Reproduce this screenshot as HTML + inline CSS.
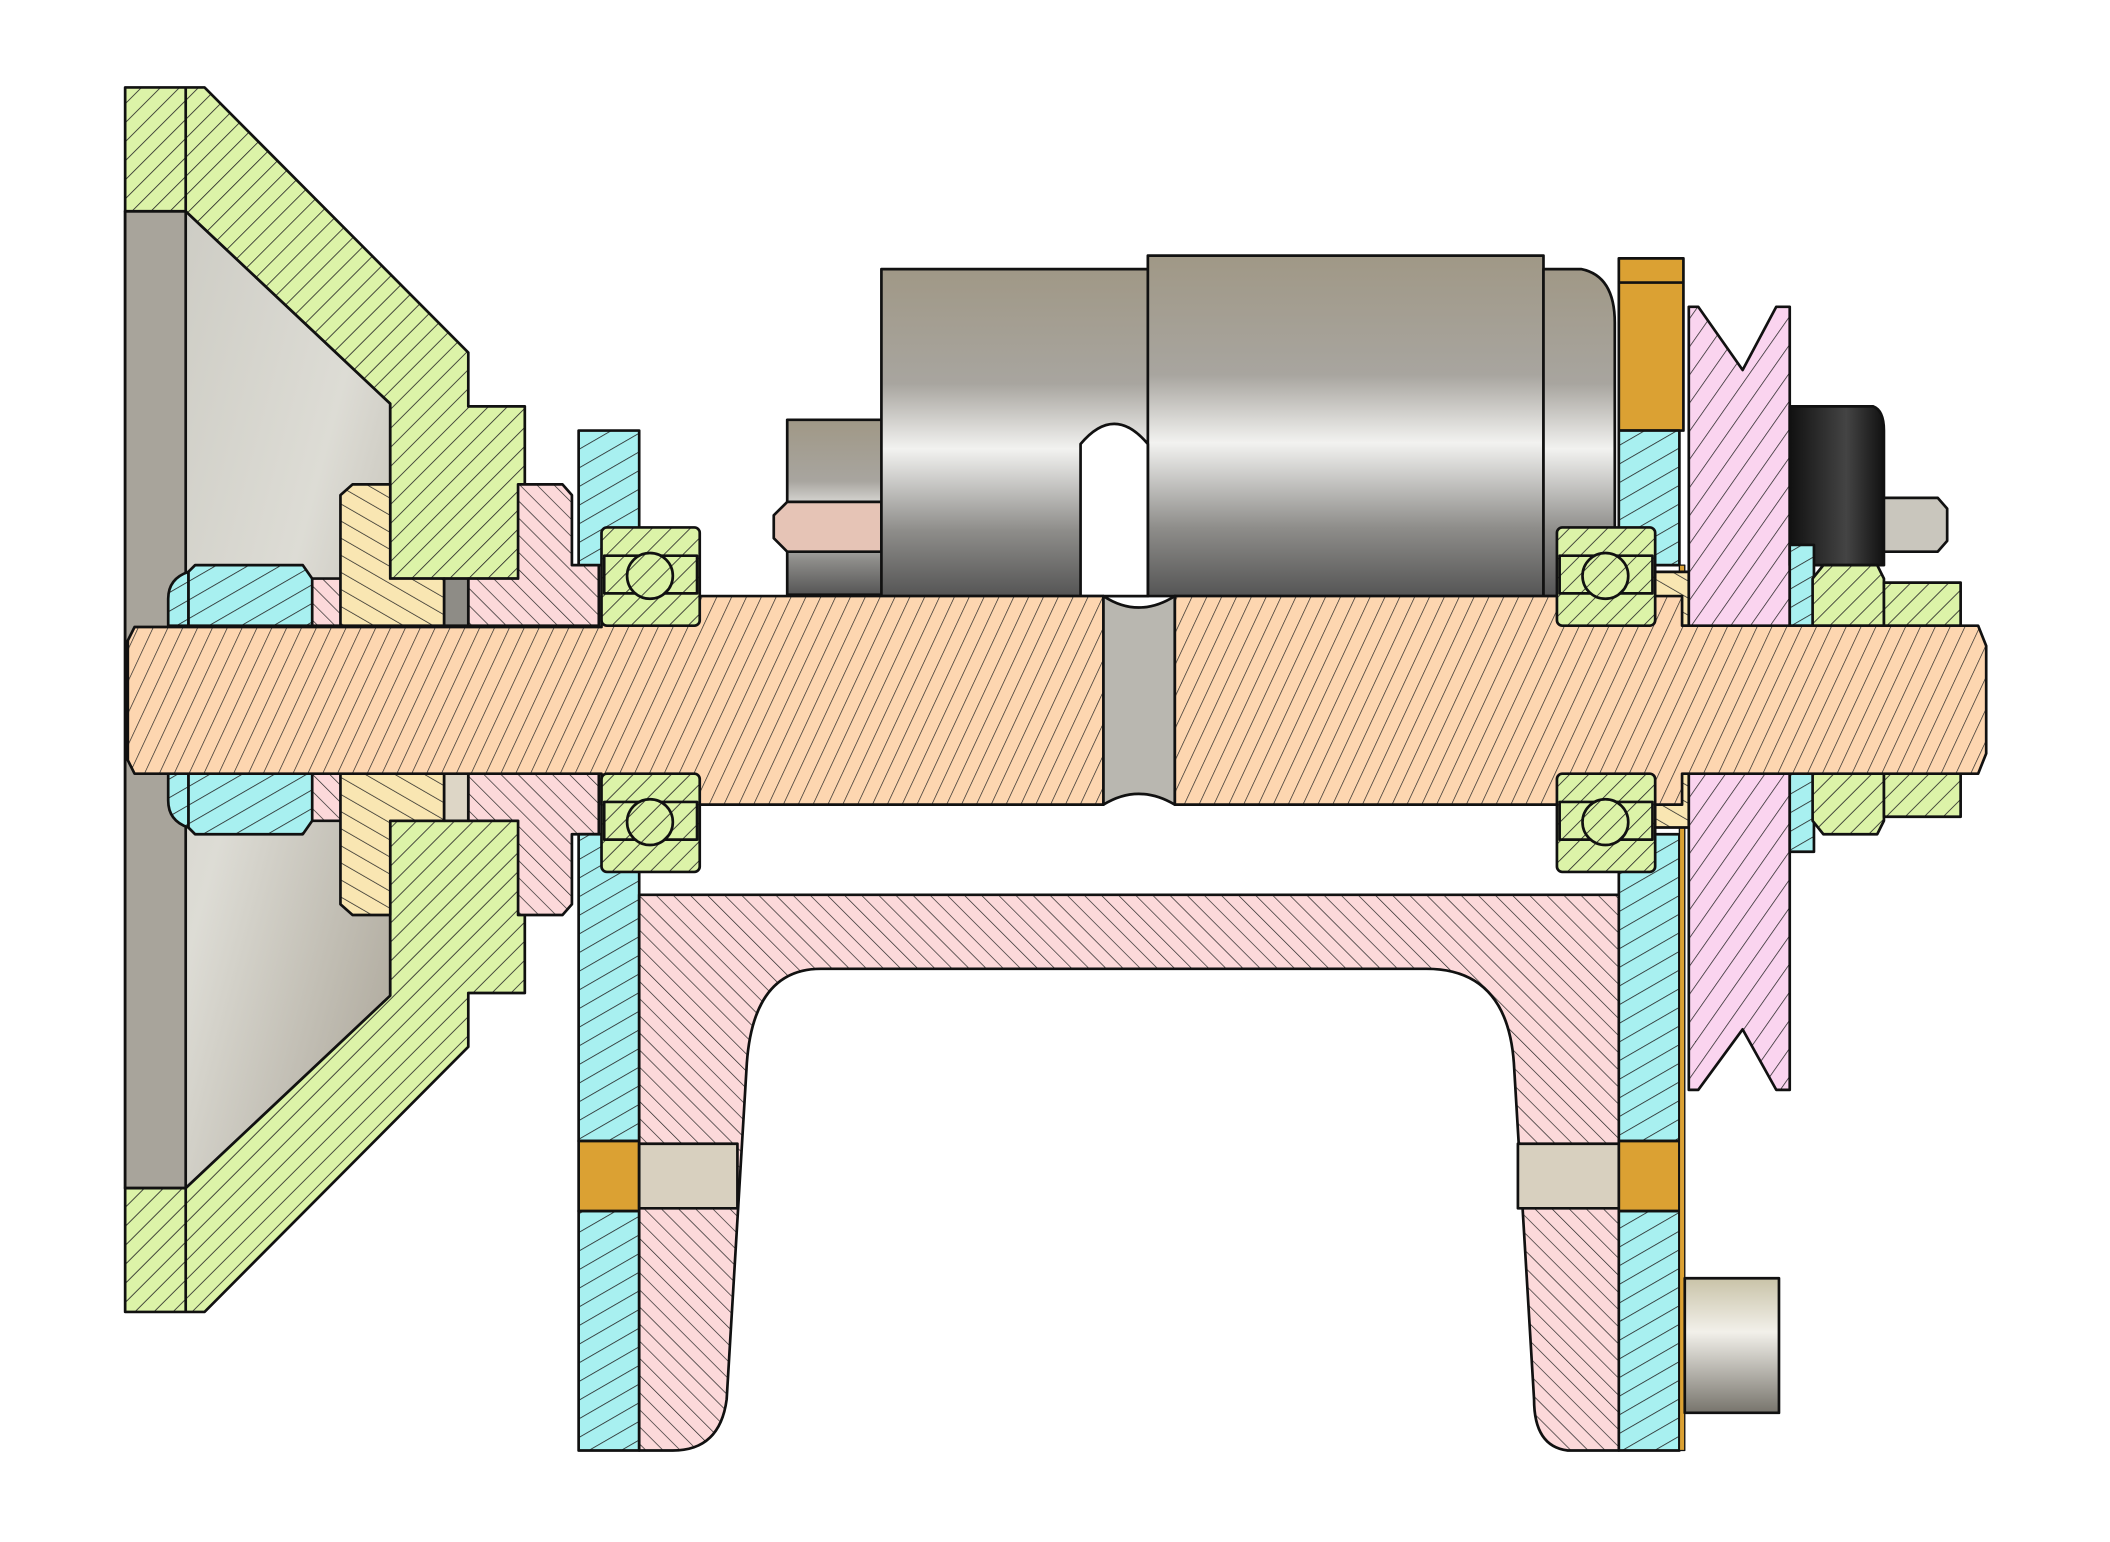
<!DOCTYPE html>
<html><head><meta charset="utf-8"><style>html,body{margin:0;padding:0;background:#fff}svg{display:block}</style></head>
<body>
<svg width="2110" height="1542" viewBox="0 0 1568 1146" preserveAspectRatio="none" xmlns="http://www.w3.org/2000/svg">
<defs>
<pattern id="hg" width="10" height="10" patternUnits="userSpaceOnUse" patternTransform="rotate(45)"><rect width="10" height="10" fill="#dcf3a8"/><line x1="0" y1="0" x2="0" y2="10" stroke="#222" stroke-width="1.2"/></pattern>
<pattern id="hc" width="12" height="12" patternUnits="userSpaceOnUse" patternTransform="rotate(60)"><rect width="12" height="12" fill="#a8f0f0"/><line x1="0" y1="0" x2="0" y2="12" stroke="#222" stroke-width="1.2"/></pattern>
<pattern id="hp" width="9" height="9" patternUnits="userSpaceOnUse" patternTransform="rotate(-45)"><rect width="9" height="9" fill="#fcd9da"/><line x1="0" y1="0" x2="0" y2="9" stroke="#222" stroke-width="1"/></pattern>
<pattern id="hm" width="12" height="12" patternUnits="userSpaceOnUse" patternTransform="rotate(35)"><rect width="12" height="12" fill="#fad4ef"/><line x1="0" y1="0" x2="0" y2="12" stroke="#222" stroke-width="1.1"/></pattern>
<pattern id="hy" width="11" height="11" patternUnits="userSpaceOnUse" patternTransform="rotate(-60)"><rect width="11" height="11" fill="#f9e6b2"/><line x1="0" y1="0" x2="0" y2="11" stroke="#222" stroke-width="1.1"/></pattern>
<pattern id="ho" width="10" height="10" patternUnits="userSpaceOnUse" patternTransform="rotate(25)"><rect width="10" height="10" fill="#fdd6b0"/><line x1="0" y1="0" x2="0" y2="10" stroke="#222" stroke-width="1"/></pattern>
<linearGradient id="cone" x1="0" y1="0" x2="1" y2="1"><stop offset="0" stop-color="#c9c8c0"/><stop offset=".5" stop-color="#dddcd5"/><stop offset="1" stop-color="#a9a396"/></linearGradient>
<linearGradient id="mot" x1="0" y1="0" x2="0" y2="1"><stop offset="0" stop-color="#a09886"/><stop offset=".35" stop-color="#a8a59f"/><stop offset=".55" stop-color="#f2f2f0"/><stop offset=".8" stop-color="#8e8d8a"/><stop offset="1" stop-color="#555"/></linearGradient>
<linearGradient id="blk" x1="0" y1="0" x2="1" y2="0"><stop offset="0" stop-color="#111"/><stop offset=".6" stop-color="#444"/><stop offset="1" stop-color="#111"/></linearGradient>
<linearGradient id="stud" x1="0" y1="0" x2="0" y2="1"><stop offset="0" stop-color="#c9c3a8"/><stop offset=".4" stop-color="#f2f0ea"/><stop offset="1" stop-color="#77746c"/></linearGradient>
</defs>
<g stroke="#111" stroke-width="2" stroke-linejoin="round">
<!-- cone interior -->
<path d="M93,157 H138 L290,300 V740 L138,883 H93 Z" fill="url(#cone)"/>
<rect x="93" y="157" width="45" height="726" fill="#a8a49b"/>
<!-- left pulley -->
<path d="M93,65 H152 L348,262 V302 H390 V430 H290 V300 L138,157 H93 Z" fill="url(#hg)"/>
<path d="M93,975 H152 L348,778 V738 H390 V610 H290 V740 L138,883 H93 Z" fill="url(#hg)"/>
<line x1="138" y1="65" x2="138" y2="157"/><line x1="138" y1="883" x2="138" y2="975"/>
<!-- motor -->
<rect x="585" y="312" width="72" height="130" fill="url(#mot)"/>
<path d="M585,373 H655 V410 H585 L575,400 V383 Z" fill="#e6c4b6"/>
<path d="M655,200 H853 V443 H655 Z" fill="url(#mot)"/>
<path d="M853,190 H1147 V443 H853 Z" fill="url(#mot)"/>
<path d="M1147,200 H1175 Q1200,205 1200,240 V443 H1147 Z" fill="url(#mot)"/>
<path d="M803,443 V330 Q828,300 853,330 V443 Z" fill="#fff"/>
<!-- right brass top -->
<rect x="1203" y="192" width="48" height="128" fill="#dba133"/>
<line x1="1203" y1="210" x2="1251" y2="210"/>
<!-- pink washer left -->
<path d="M385,360 H418 L425,368 V420 L445,420 V465 H348 V430 H385 Z" fill="url(#hp)"/>
<path d="M385,680 H418 L425,672 V620 L445,620 V575 H348 V610 H385 Z" fill="url(#hp)"/>
<rect x="230" y="430" width="25" height="35" fill="url(#hp)"/><rect x="230" y="575" width="25" height="35" fill="url(#hp)"/>
<rect x="330" y="430" width="18" height="35" fill="#8e8c86"/><rect x="330" y="575" width="18" height="35" fill="#ddd6c6"/>
<!-- yellow bushing -->
<path d="M262,360 H290 V430 H330 V465 H253 V368 Z" fill="url(#hy)"/>
<path d="M262,680 H290 V610 H330 V575 H253 V672 Z" fill="url(#hy)"/>
<!-- left nut -->
<path d="M145,420 H225 L232,430 V465 H140 V425 Z" fill="url(#hc)"/>
<path d="M145,620 H225 L232,610 V575 H140 V615 Z" fill="url(#hc)"/>
<path d="M140,425 Q125,430 125,445 V465 H140 Z" fill="url(#hc)"/>
<path d="M140,615 Q125,610 125,595 V575 H140 Z" fill="url(#hc)"/>
<!-- left plate -->
<rect x="430" y="320" width="45" height="100" fill="url(#hc)"/>
<rect x="430" y="620" width="45" height="228" fill="url(#hc)"/>
<rect x="430" y="900" width="45" height="178" fill="url(#hc)"/>
<rect x="430" y="848" width="45" height="52" fill="#dba133"/>
<!-- frame -->
<path d="M475,665 H1203 V1078 H1165 Q1140,1075 1140,1040 L1125,790 Q1120,720 1060,720 H610 Q560,720 555,790 L540,1040 Q535,1078 500,1078 H475 Z" fill="url(#hp)"/>
<rect x="475" y="850" width="73" height="48" fill="#d8d0bf"/><rect x="1128" y="850" width="75" height="48" fill="#d8d0bf"/>
<!-- right plate -->
<rect x="1203" y="320" width="45" height="100" fill="url(#hc)"/>
<rect x="1203" y="620" width="45" height="228" fill="url(#hc)"/>
<rect x="1203" y="900" width="45" height="178" fill="url(#hc)"/>
<rect x="1203" y="848" width="45" height="52" fill="#dba133"/>
<rect x="1248" y="420" width="4" height="658" fill="#dba133" stroke-width="1"/>
<rect x="1230" y="425" width="25" height="40" fill="url(#hy)"/><rect x="1230" y="575" width="25" height="40" fill="url(#hy)"/>
<!-- right pulley -->
<path d="M1255,228 L1262,228 L1295,275 L1320,228 H1330 V810 H1320 L1295,765 L1262,810 H1255 Z" fill="url(#hm)"/>
<!-- cap -->
<path d="M1330,302 H1392 Q1400,305 1400,320 V420 H1330 Z" fill="url(#blk)"/>
<path d="M1400,370 H1440 L1447,378 V402 L1440,410 H1400 Z" fill="#c9c6bd"/>
<rect x="1330" y="405" width="18" height="60" fill="url(#hc)"/><rect x="1330" y="575" width="18" height="58" fill="url(#hc)"/>
<!-- right nuts -->
<path d="M1355,420 H1395 L1400,430 V465 H1347 V430 Z" fill="url(#hg)"/>
<rect x="1400" y="433" width="57" height="32" fill="url(#hg)"/>
<path d="M1355,620 H1395 L1400,610 V575 H1347 V610 Z" fill="url(#hg)"/>
<rect x="1400" y="575" width="57" height="32" fill="url(#hg)"/>
<!-- stud -->
<rect x="1252" y="950" width="70" height="100" fill="url(#stud)"/>
<!-- shaft -->
<path d="M100,466 H447 V443 H820 V598 H447 V575 H100 L95,565 V476 Z" fill="url(#ho)"/>
<path d="M873,443 H1250 V465 H1470 L1476,480 V560 L1470,575 H1250 V598 H873 Z" fill="url(#ho)"/>
<path d="M820,443 Q846,460 873,443 V598 Q846,582 820,598 Z" fill="#b9b7b0"/>
<!-- bearings -->
<g id="b"><rect x="447" y="392" width="73" height="73" rx="4" fill="url(#hg)"/><rect x="449" y="413" width="69" height="28" fill="url(#hg)"/><circle cx="483" cy="428" r="17" fill="url(#hg)"/></g>
<use href="#b" y="183"/><use href="#b" x="710"/><use href="#b" x="710" y="183"/>
</g>
</svg>
</body></html>
